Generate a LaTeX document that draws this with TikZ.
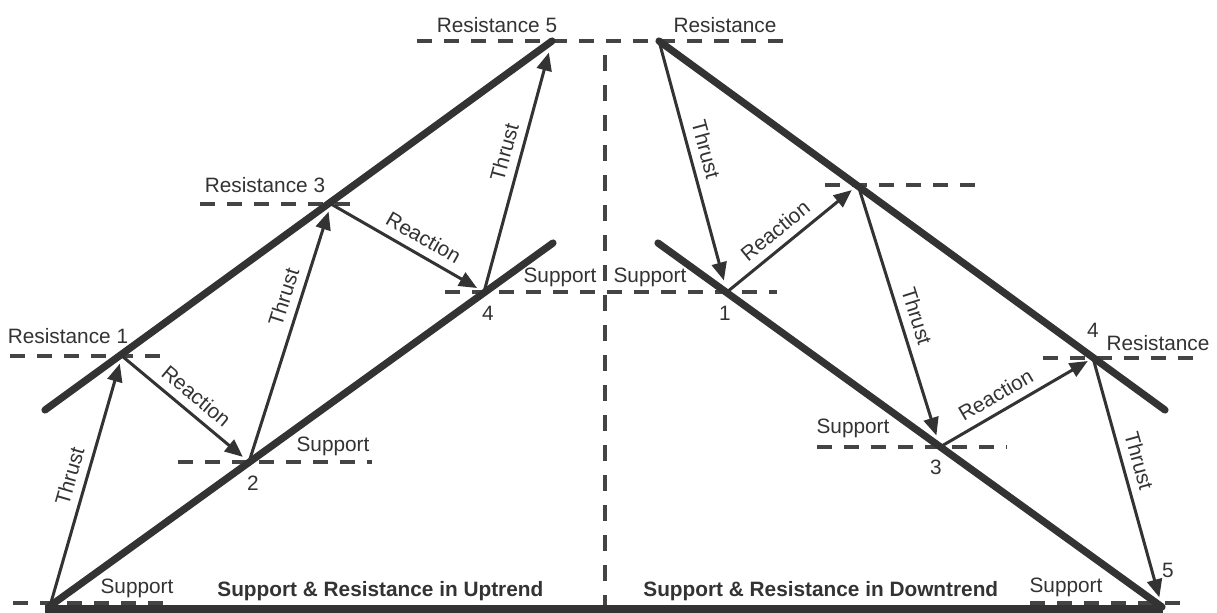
\documentclass[tikz,border=0pt]{standalone}
\usepackage{fontspec}
\setmainfont{Liberation Sans}
\usetikzlibrary{arrows.meta}
\definecolor{ink}{HTML}{333333}
\definecolor{dashcol}{HTML}{444444}
\begin{document}
\begin{tikzpicture}[x=0.5pt,y=-0.5pt,
  trend/.style={line width=3.6pt, draw=ink, line cap=round},
  move/.style={line width=1.5pt, draw=ink, -{Triangle[length=9pt,width=7.5pt]}, shorten >=4pt},
  level/.style={line width=2.1pt, draw=dashcol, dash pattern=on 7.5pt off 6pt},
  lbl/.style={text=ink, font=\fontsize{10.4}{12}\selectfont, inner sep=0pt},
  mlbl/.style={lbl, sloped, above=4pt},
  ttl/.style={text=ink, font=\fontsize{10.4}{12}\selectfont\bfseries, inner sep=0pt, anchor=base west}]
\useasboundingbox[fill=white] (0,0) rectangle (1217,612);

% key points
\coordinate (O)  at (50,606);
\coordinate (R1) at (122,356);
\coordinate (S2) at (249,462);
\coordinate (R3) at (331,204);
\coordinate (S4) at (484,292);
\coordinate (R5) at (552,41);
\coordinate (RR) at (659,41);
\coordinate (S1) at (727,292);
\coordinate (R2) at (858,185);
\coordinate (S3) at (940,447);
\coordinate (R4) at (1093,358);
\coordinate (S5) at (1162,607);

% dashed levels
\draw[level] (10,356) -- (172,356);
\draw[level] (178,462) -- (372,462);
\draw[level] (200,204) -- (362,204);
\draw[level] (445,292) -- (777,292);
\draw[level] (417,41) -- (792,41);
\draw[level] (13,603) -- (175,603);
\draw[level] (825,185) -- (987,185);
\draw[level] (817,447) -- (1007,447);
\draw[level] (1043,358) -- (1203,358);
\draw[level] (1030,603) -- (1190,603);
\draw[level, dash pattern=on 8pt off 7pt] (605,55) -- (605,612);

% base line
\draw[line width=3.6pt, draw=ink] (45,609) -- (1163,609);

% trend lines
\draw[trend] (45,410) -- (R5);
\draw[trend] (O) -- (553,243);
\draw[trend] (RR) -- (1165,410);
\draw[trend] (658,243) -- (S5);

% uptrend moves
\draw[move] (O) -- node[mlbl,pos=.5] (lt1) {Thrust} (R1);
\draw[move] (R1) -- node[mlbl,pos=.5] (lr1) {Reaction} (S2);
\draw[move] (S2) -- node[mlbl,pos=.62] (lt2) {Thrust} (R3);
\draw[move] (R3) -- node[mlbl,pos=.55] (lr2) {Reaction} (S4);
\draw[move, shorten >=6pt] (S4) -- node[mlbl,pos=.54] (lt3) {Thrust} (R5);

% downtrend moves
\draw[move, shorten >=6pt] (RR) -- node[mlbl,pos=.45] (rt1) {Thrust} (S1);
\draw[move] (S1) -- node[mlbl,pos=.45] (rr1) {Reaction} (R2);
\draw[move, shorten >=6pt] (R2) -- node[mlbl,pos=.52] (rt2) {Thrust} (S3);
\draw[move, shorten >=3pt] (S3) -- node[mlbl,pos=.42] (rr2) {Reaction} (R4);
\draw[move, shorten >=5pt] (R4) -- node[mlbl,pos=.43] (rt3) {Thrust} (S5);

% labels
\node[lbl] (tres1) at (68,336) {Resistance 1};
\node[lbl] (tres3) at (265,185) {Resistance 3};
\node[lbl] (tres5) at (497,25) {Resistance 5};
\node[lbl] (tresT) at (725,25) {Resistance};
\node[lbl] (tsup2) at (333,446) {Support};
\node[lbl] (n2) at (253,483) {2};
\node[lbl] (n4) at (488,313) {4};
\node[lbl] (tsupL) at (560,277) {Support};
\node[lbl] (tsupR) at (650,277) {Support};
\node[lbl] (n1) at (725,313) {1};
\node[lbl] (tsup0) at (137,588) {Support};
\node[lbl] (tsup3) at (853,428) {Support};
\node[lbl] (n3) at (936,467) {3};
\node[lbl] (n4r) at (1093,330) {4};
\node[lbl] (tres4) at (1158,343) {Resistance};
\node[lbl] (n5) at (1168,570) {5};
\node[lbl] (tsup5) at (1066,587) {Support};
\node[ttl] (titleL) at (217,596) {Support \& Resistance in Uptrend};
\node[ttl] (titleR) at (643,596) {Support \& Resistance in Downtrend};
\end{tikzpicture}
\end{document}
